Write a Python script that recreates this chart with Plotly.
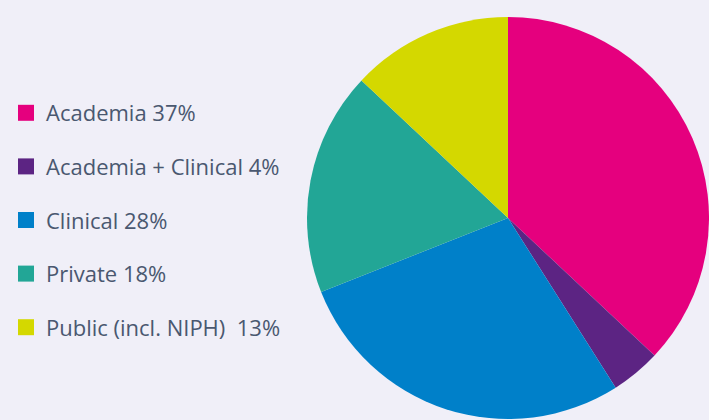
import plotly.graph_objects as go

categories = ["Academia", "Academia + Clinical", "Clinical", "Private", "Public (incl. NIPH)"]
values = [37, 4, 28, 18, 13]
legend_labels = ["Academia 37%", "Academia + Clinical 4%", "Clinical 28%", "Private 18%",
                 "Public (incl. NIPH)\u00a0 13%"]
colors = ["#e5007e", "#5c2483", "#0080c9", "#22a696", "#d4d800"]

W, H = 709, 420
bg = "#f0eff8"

fig = go.Figure()
fig.add_trace(go.Pie(
    labels=categories, values=values, sort=False, direction="clockwise", rotation=0,
    marker=dict(colors=colors, line=dict(width=0)), textinfo="none", hoverinfo="label+percent",
    showlegend=False,
    domain=dict(x=[307 / W, 1.0], y=[1 / H, 403 / H]),
))
for lab, col in zip(legend_labels, colors):
    fig.add_trace(go.Scatter(
        x=[None], y=[None], mode="markers", name=lab, legendgroup=lab,
        marker=dict(symbol="square", size=16, color=col),
        showlegend=True, hoverinfo="skip",
    ))

fig.update_layout(
    width=W, height=H, margin=dict(l=0, r=0, t=0, b=0),
    paper_bgcolor=bg, plot_bgcolor=bg,
    xaxis=dict(visible=False), yaxis=dict(visible=False),
    legend=dict(x=6 / W, y=200 / H, xanchor="left", yanchor="middle", traceorder="grouped",
                tracegroupgap=22, bgcolor="rgba(0,0,0,0)",
                font=dict(family="Open Sans", size=22, color="#4a5870"),
                itemclick=False, itemdoubleclick=False),
)
fig.write_html("out.html", config={"displayModeBar": False},
               post_script="document.body.style.margin='0';document.body.style.background='" + bg + "';")
